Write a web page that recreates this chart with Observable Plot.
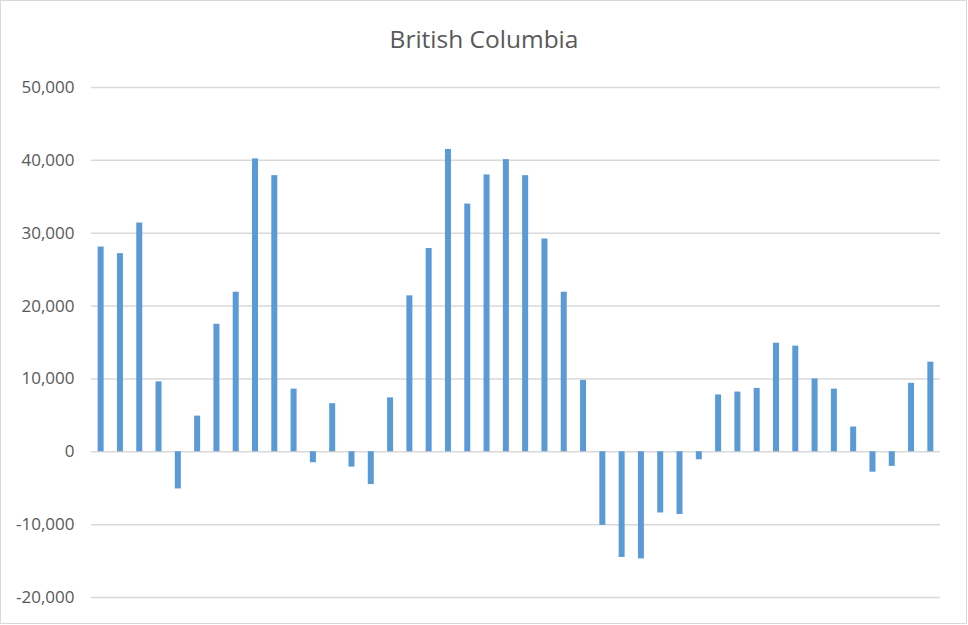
<!DOCTYPE html>
<html>
<head>
<meta charset="utf-8">
<script src="https://cdn.jsdelivr.net/npm/d3@7"></script>
<script src="https://cdn.jsdelivr.net/npm/@observablehq/plot@0.6"></script>
<style>
  html, body { margin: 0; padding: 0; background: #fff; }
  #wrap { position: relative; width: 968px; height: 625px; overflow: hidden; }
  #title { position: absolute; left: 0; top: 22px; width: 968px; text-align: center;
           font-family: "Open Sans", sans-serif; font-size: 24.5px; color: #595959; }
  #border { position: absolute; left: 0; top: 0; width: 967px; height: 624px;
            box-sizing: border-box; border: 1.5px solid #d9d9d9; pointer-events: none; }
  svg { display: block; }
</style>
</head>
<body>
<div id="wrap">
  <div id="chart"></div>
  <div id="title">British Columbia</div>
  <div id="border"></div>
</div>
<script>
const titleText = "British Columbia";
const periods = d3.range(1, 45);
const values = [
  28100, 27200, 31400, 9600, -5100, 4900, 17500, 21900, 40200, 37900,
  8600, -1500, 6600, -2100, -4500, 7400, 21400, 27900, 41500, 34000,
  38000, 40100, 37900, 29200, 21900, 9800, -10100, -14500, -14700, -8400,
  -8600, -1100, 7800, 8200, 8700, 14900, 14500, 10000, 8600, 3400,
  -2800, -2000, 9400, 12300
];
const yTicks = [-20000, -10000, 0, 10000, 20000, 30000, 40000, 50000];

const data = periods.map((p, i) => ({period: p, value: values[i]}));

const chart = Plot.plot({
  width: 968,
  height: 625,
  marginTop: 87,
  marginBottom: 28,
  marginLeft: 91,
  marginRight: 28,
  style: {fontFamily: "'Open Sans', sans-serif", fontSize: "17px", color: "#595959", background: "#fff"},
  x: {domain: periods, padding: 0, round: false, axis: null},
  y: {domain: [-20000, 50000], ticks: yTicks, label: null},
  marks: [
    Plot.ruleY(yTicks, {stroke: "#d9d9d9", strokeWidth: 1.5}),
    Plot.barY(data, {x: "period", y: "value", fill: "#5b9bd5", insetLeft: 6.65, insetRight: 6.65}),
    Plot.axisY(yTicks, {tickSize: 0, tickPadding: 17, label: null,
      tickFormat: d => d.toLocaleString("en-US"), fill: "#595959"})
  ]
});
document.getElementById("chart").appendChild(chart);
document.getElementById("title").textContent = titleText;
</script>
</body>
</html>
